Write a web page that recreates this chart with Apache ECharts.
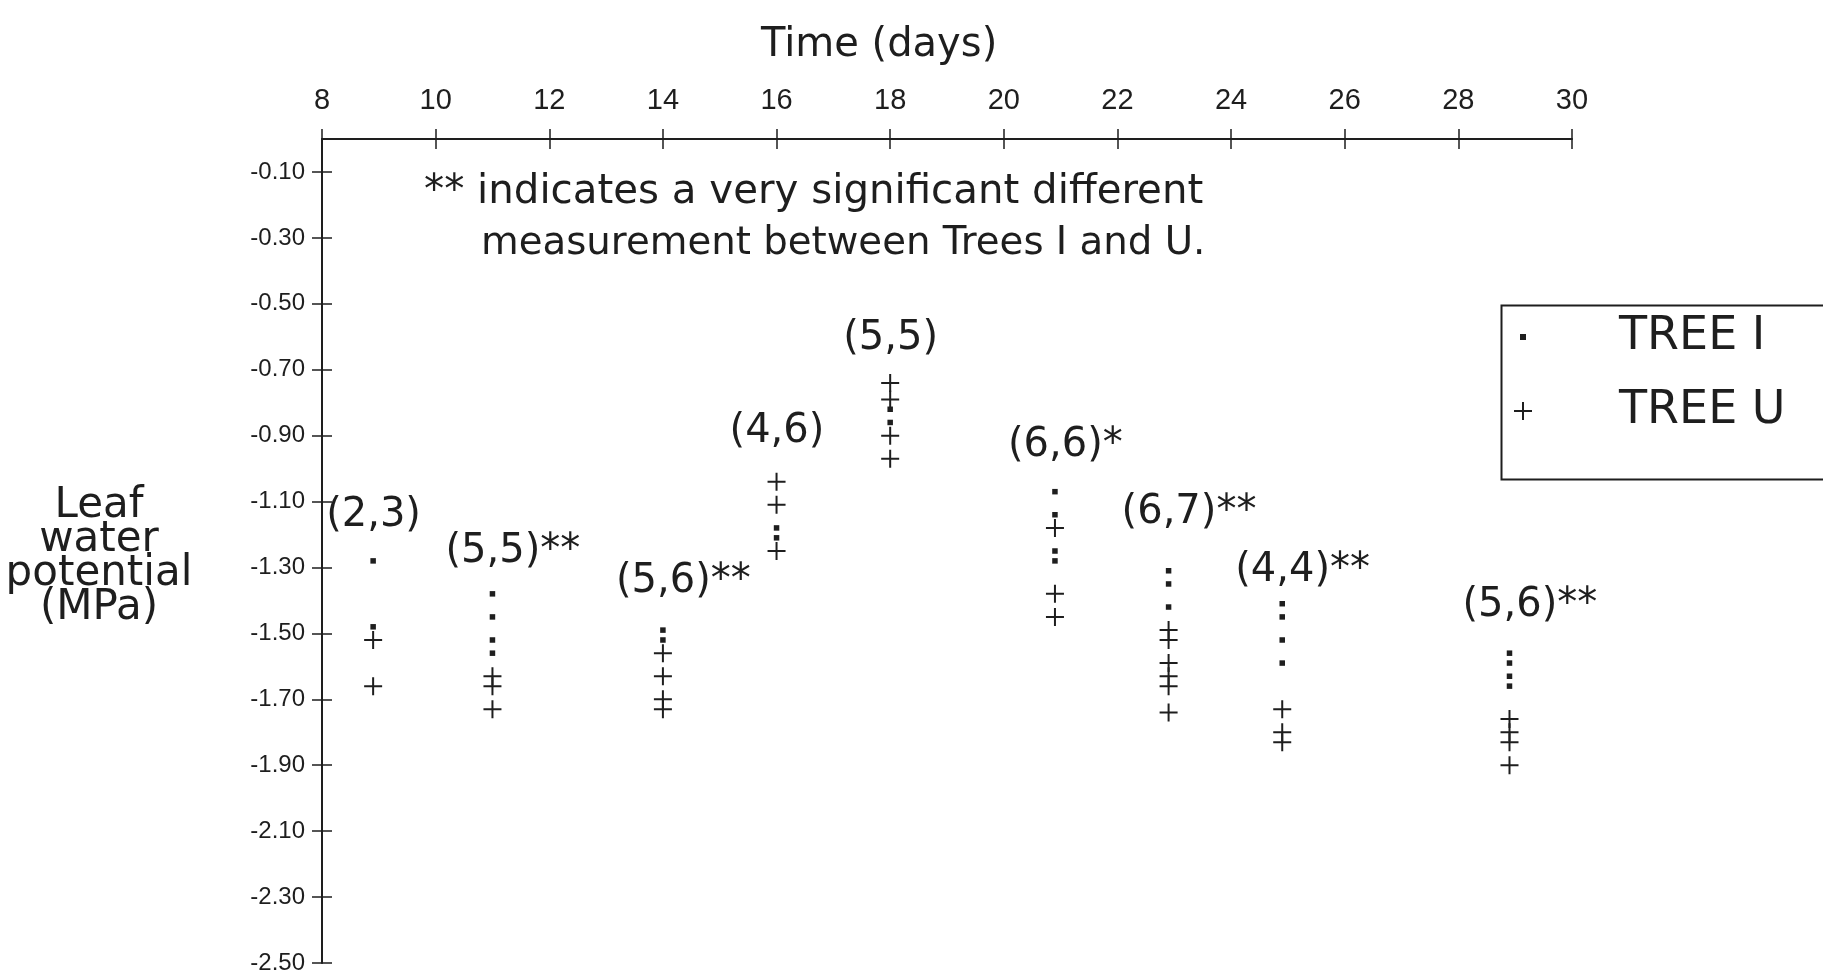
<!DOCTYPE html>
<html>
<head>
<meta charset="utf-8">
<script src="https://cdn.jsdelivr.net/npm/echarts@6/dist/echarts.min.js"></script>
<style>
html,body{margin:0;padding:0;background:#fff;}
#chart{width:1823px;height:975px;}
</style>
</head>
<body>
<div id="chart"></div>
<script>
// Sampling days (positions of each measurement column)
const days = [8.9, 11.0, 14.0, 16.0, 18.0, 20.9, 22.9, 24.9, 28.9];
// Leaf water potential (MPa), TREE I (dots) per day
const treeI = [
  [-1.28, -1.48],
  [-1.38, -1.45, -1.52, -1.56],
  [-1.49, -1.52],
  [-1.18, -1.21],
  [-0.82, -0.86],
  [-1.07, -1.14, -1.25, -1.28],
  [-1.31, -1.35, -1.42],
  [-1.41, -1.45, -1.52, -1.59],
  [-1.56, -1.59, -1.63, -1.66]
];
// TREE U (plus signs) per day
const treeU = [
  [-1.52, -1.66],
  [-1.63, -1.66, -1.73],
  [-1.56, -1.63, -1.70, -1.73],
  [-1.04, -1.11, -1.25],
  [-0.74, -0.79, -0.90, -0.97],
  [-1.18, -1.38, -1.45],
  [-1.49, -1.52, -1.59, -1.63, -1.66, -1.74],
  [-1.73, -1.80, -1.83],
  [-1.76, -1.80, -1.83, -1.90]
];
// Sample size annotations (n TREE I, n TREE U) and significance marks
const groupLabels = ['(2,3)', '(5,5)**', '(5,6)**', '(4,6)', '(5,5)', '(6,6)*', '(6,7)**', '(4,4)**', '(5,6)**'];
const groupLabelY = [-1.142, -1.252, -1.344, -0.889, -0.606, -0.931, -1.134, -1.308, -1.415];
// Tick labels
const xTicks = [8, 10, 12, 14, 16, 18, 20, 22, 24, 26, 28, 30];
const yTicks = [-2.5, -2.3, -2.1, -1.9, -1.7, -1.5, -1.3, -1.1, -0.9, -0.7, -0.5, -0.3, -0.1];

const ink = '#1e1e1e';
const bigFont = '"DejaVu Sans", "Liberation Sans", Arial, sans-serif';
const tickFont = '"Liberation Sans", Arial, sans-serif';
const plusPath = 'path://M8,0H10V8H18V10H10V18H8V10H0V8H8Z';

const dataI = [], dataU = [], dataLab = [];
days.forEach((d, i) => {
  treeI[i].forEach(v => dataI.push([d, v]));
  treeU[i].forEach(v => dataU.push([d, v]));
  dataLab.push([d, groupLabelY[i]]);
});

const chart = echarts.init(document.getElementById('chart'), null, {renderer: 'canvas'});
chart.setOption({
  animation: false,
  backgroundColor: '#ffffff',
  title: {
    text: 'Time (days)', left: 756, top: 21,
    textStyle: {fontFamily: bigFont, fontSize: 40, fontWeight: 'normal', color: ink}
  },
  grid: {left: 322, right: 251, top: 139, bottom: 12},
  xAxis: [{
    type: 'value', position: 'top', min: 8, max: 30, interval: 2,
    axisLine: {lineStyle: {color: ink, width: 2}},
    axisTick: {length: 10, lineStyle: {color: ink, width: 1.5}, customValues: xTicks},
    axisLabel: {margin: 24, fontSize: 29, color: ink, fontFamily: tickFont, customValues: xTicks},
    splitLine: {show: false}
  }, {
    type: 'value', position: 'top', min: 8, max: 30, interval: 2,
    axisLine: {show: false},
    axisTick: {inside: true, length: 10, lineStyle: {color: ink, width: 1.5}, customValues: xTicks},
    axisLabel: {show: false},
    splitLine: {show: false}
  }],
  yAxis: [{
    type: 'value', min: -2.5, max: 0, interval: 0.2,
    axisLine: {lineStyle: {color: ink, width: 2}},
    axisTick: {length: 10, lineStyle: {color: ink, width: 1.5}, customValues: yTicks},
    axisLabel: {margin: 17, fontSize: 24, color: ink, fontFamily: tickFont, customValues: yTicks,
      formatter: v => v.toFixed(2)},
    splitLine: {show: false}
  }, {
    type: 'value', min: -2.5, max: 0, interval: 0.2, position: 'left',
    axisLine: {show: false},
    axisTick: {inside: true, length: 10, lineStyle: {color: ink, width: 1.5}, customValues: yTicks},
    axisLabel: {show: false},
    splitLine: {show: false}
  }],
  legend: [{
    data: ['TREE I'], left: 1520, top: 314, orient: 'vertical', padding: 0,
    itemWidth: 6, itemHeight: 6, selectedMode: false,
    textStyle: {fontFamily: bigFont, fontSize: 46, lineHeight: 46, color: ink, padding: [0, 0, 0, 88]}
  }, {
    data: ['TREE U'], left: 1514, top: 388, orient: 'vertical', padding: 0,
    itemWidth: 18, itemHeight: 18, selectedMode: false,
    textStyle: {fontFamily: bigFont, fontSize: 46, lineHeight: 46, color: ink, padding: [0, 0, 0, 82]}
  }],
  graphic: [
    {type: 'rect', left: 1499, top: 303, shape: {width: 400, height: 174},
     style: {fill: 'none', stroke: ink, lineWidth: 2}, silent: true},
    {type: 'text', x: 99, y: 489,
     style: {text: 'Leaf\nwater\npotential\n(MPa)', font: '42px ' + bigFont, lineHeight: 34,
       align: 'center', verticalAlign: 'top', fill: ink}},
    {type: 'text', left: 424, top: 173,
     style: {text: '** indicates a very significant different', font: '40.3px ' + bigFont, fill: ink}},
    {type: 'text', left: 481, top: 224,
     style: {text: 'measurement between Trees I and U.', font: '38.7px ' + bigFont, fill: ink}}
  ],
  series: [{
    name: 'TREE I', type: 'scatter', data: dataI,
    symbol: 'rect', symbolSize: 5.5,
    itemStyle: {color: ink, opacity: 1}
  }, {
    name: 'TREE U', type: 'scatter', data: dataU,
    symbol: plusPath, symbolSize: 18, symbolKeepAspect: true,
    itemStyle: {color: ink, opacity: 1}
  }, {
    name: 'labels', type: 'scatter', data: dataLab, silent: true,
    symbolSize: 0, itemStyle: {color: ink},
    label: {show: true, position: 'inside', align: 'left', verticalAlign: 'middle', offset: [-47, 0],
      fontFamily: bigFont, fontSize: 40, color: ink, opacity: 1,
      formatter: p => groupLabels[p.dataIndex]}
  }]
});
</script>
</body>
</html>
